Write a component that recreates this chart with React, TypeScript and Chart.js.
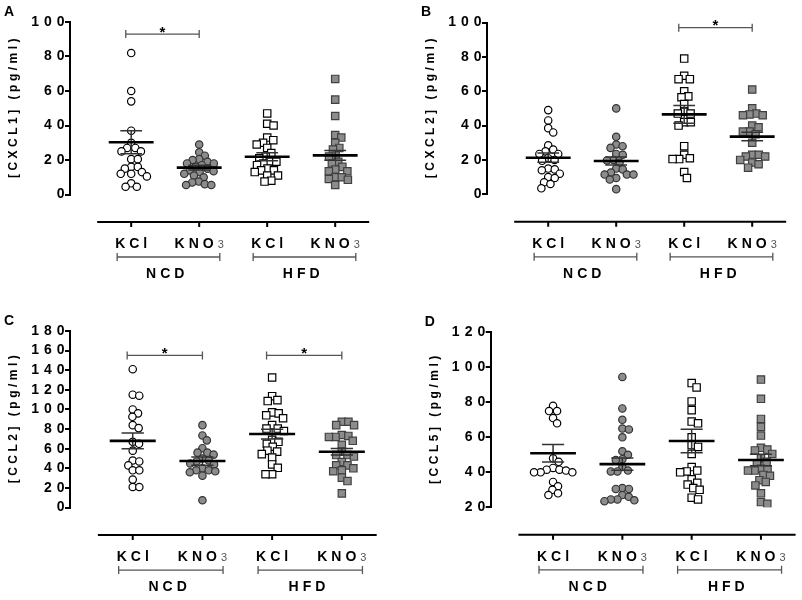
import React, { useEffect, useRef } from 'react';
import { Chart, registerables } from 'chart.js';

Chart.register(...registerables);

// ---------- data ----------
const categories = ['KCl', 'KNO3', 'KCl', 'KNO3'];
const groupLabels = ['NCD', 'HFD'];

// Panel A: [CXCL1]
const cxcl1NcdKcl = [82, 60, 54, 37, 30, 27, 27, 25, 25, 20.5, 20.5, 16, 16, 15, 13, 12, 12, 10.5, 6.5, 4.5, 4.5];
const cxcl1NcdKno3 = [29, 24.5, 22.5, 20.5, 20, 19, 18, 18, 17, 16, 15, 14, 13.5, 13, 12, 11, 10, 7.5, 7, 6, 5.5, 5.5];
const cxcl1HfdKcl = [47, 41, 40, 33, 31.5, 30, 29, 27, 24, 22, 21, 19, 19, 18, 17, 15, 14, 14, 13, 11, 11, 8, 7.5];
const cxcl1HfdKno3 = [67, 55, 45.5, 34.5, 33, 30, 27, 26, 22.5, 22, 19, 18, 16, 14.5, 13.5, 13.5, 10, 10, 9, 8.5, 5.5];
const cxcl1Mean = [30.3, 15.6, 21.9, 22.7];
const cxcl1Sem = [6.7, 1.4, 2.3, 2.8];
const cxcl1Ticks = [0, 20, 40, 60, 80, 100];
const cxcl1Sig = [{ from: 0, to: 1, y: 93 }];

// Panel B: [CXCL2]
const cxcl2NcdKcl = [49, 43, 38.5, 36, 28.5, 26, 25, 23.5, 23.5, 21, 20, 19.5, 15, 14.5, 14, 12, 10, 9.5, 7, 6, 3.5];
const cxcl2NcdKno3 = [50, 33.5, 29, 28, 27, 23.5, 23, 20, 19.7, 18.5, 15, 14.5, 12.7, 11.5, 11.5, 11.5, 9.5, 8.6, 3];
const cxcl2HfdKcl = [79, 69, 67, 67, 60, 57, 56.5, 52.5, 48, 47, 47, 42, 42, 40, 28, 23, 21, 20.5, 20.5, 13, 9.5];
const cxcl2HfdKno3 = [61, 50, 47, 46.5, 46, 46, 40, 39, 36.5, 36.5, 35, 30, 23, 23, 22, 22, 20, 18.5, 17.5, 15.5];
const cxcl2Mean = [21.3, 19.4, 46.5, 33.6];
const cxcl2Sem = [2.7, 2.3, 5.2, 2.5];
const cxcl2Ticks = [0, 20, 40, 60, 80, 100];
const cxcl2Sig = [{ from: 2, to: 3, y: 97 }];

// Panel C: [CCL2]
const ccl2NcdKcl = [141, 115, 114, 100, 96, 92.5, 84, 81, 67, 65, 58, 48, 47, 43, 38, 38, 28.5, 21, 21];
const ccl2NcdKno3 = [84, 73.5, 68.5, 60.5, 56, 56, 54, 50, 48, 47, 45, 44, 40, 38, 38, 37, 36, 32.5, 7.5];
const ccl2HfdKcl = [132.5, 113.5, 109.5, 108.5, 97, 96, 94, 91, 84, 80.5, 80.5, 78, 69, 67, 65, 62, 58, 57, 54.5, 51, 44, 40.5, 34, 34];
const ccl2HfdKno3 = [87.5, 87.5, 84, 84, 74, 73, 72, 72, 68, 64, 57, 53.5, 53.5, 52, 46.5, 43, 43, 40, 38, 37, 30.5, 27, 14.5];
const ccl2Mean = [68, 47.4, 74.9, 56.9];
const ccl2Sem = [8, 4.2, 5, 3.4];
const ccl2Ticks = [0, 20, 40, 60, 80, 100, 120, 140, 160, 180];
const ccl2Sig = [{ from: 0, to: 1, y: 155 }, { from: 2, to: 3, y: 155 }];

// Panel D: [CCL5]
const ccl5NcdKcl = [78, 75, 75, 71, 68, 48, 46, 42.5, 41.5, 41.5, 41, 40, 40, 40, 34.5, 32, 30, 28, 27];
const ccl5NcdKno3 = [94.5, 76.5, 70, 65, 64.5, 60, 52, 50, 47.5, 47, 43, 41, 40.5, 40.5, 31, 30.5, 30.5, 27, 26, 24.5, 24.5, 24, 23.5];
const ccl5HfdKcl = [91, 88.5, 80.5, 75.5, 69, 68, 60, 55.5, 54.5, 50.5, 43, 41, 40.5, 40, 36, 34, 33, 31, 30, 25.5, 24.5];
const ccl5HfdKno3 = [93, 82, 70.5, 66, 61, 54, 53, 52.5, 50.5, 48, 46, 45, 42, 41.5, 41, 41, 38.5, 38, 35.5, 34.5, 32.5, 28, 23, 22];
const ccl5Mean = [50.9, 44.7, 57.9, 47];
const ccl5Sem = [5, 3.5, 6.7, 3.3];
const ccl5Ticks = [20, 40, 60, 80, 100, 120];
const ccl5Sig: { from: number; to: number; y: number }[] = [];

// ---------- layout / style ----------
const FONT = '"Liberation Sans", Arial, Helvetica, sans-serif';
const X_MIN = -0.9;
const X_MAX = 3.5;
const TICK_LS = 5;

type Sig = { from: number; to: number; y: number };
type Panel = {
  letter: string;
  title: string;
  groups: number[][];
  means: number[];
  sems: number[];
  ticks: number[];
  sig: Sig[];
  x: number;
  y: number;
  w: number;
  axisX: number;
  top: number;
  bottom: number;
  unit: number;
};

const panels: Panel[] = [
  { letter: 'A', title: '[CXCL1] (pg/ml)', groups: [cxcl1NcdKcl, cxcl1NcdKno3, cxcl1HfdKcl, cxcl1HfdKno3], means: cxcl1Mean, sems: cxcl1Sem, ticks: cxcl1Ticks, sig: cxcl1Sig, x: 0, y: 0, w: 400, axisX: 70, top: 22, bottom: 194.5, unit: 68 },
  { letter: 'B', title: '[CXCL2] (pg/ml)', groups: [cxcl2NcdKcl, cxcl2NcdKno3, cxcl2HfdKcl, cxcl2HfdKno3], means: cxcl2Mean, sems: cxcl2Sem, ticks: cxcl2Ticks, sig: cxcl2Sig, x: 400, y: 0, w: 402, axisX: 87, top: 22.5, bottom: 194.3, unit: 68 },
  { letter: 'C', title: '[CCL2] (pg/ml)', groups: [ccl2NcdKcl, ccl2NcdKno3, ccl2HfdKcl, ccl2HfdKno3], means: ccl2Mean, sems: ccl2Sem, ticks: ccl2Ticks, sig: ccl2Sig, x: 0, y: 300, w: 400, axisX: 70, top: 30.9, bottom: 207.6, unit: 69.7 },
  { letter: 'D', title: '[CCL5] (pg/ml)', groups: [ccl5NcdKcl, ccl5NcdKno3, ccl5HfdKcl, ccl5HfdKno3], means: ccl5Mean, sems: ccl5Sem, ticks: ccl5Ticks, sig: ccl5Sig, x: 400, y: 300, w: 402, axisX: 90.7, top: 32.3, bottom: 207.3, unit: 69.3 },
];

const markerStyles = [
  { pointStyle: 'circle', radius: 3.7, bg: '#ffffff', border: '#000000' },
  { pointStyle: 'circle', radius: 3.7, bg: '#8c8c8c', border: '#333333' },
  { pointStyle: 'rect', radius: 5.2, bg: '#ffffff', border: '#000000' },
  { pointStyle: 'rect', radius: 5.2, bg: '#8c8c8c', border: '#404040' },
];

function swarm(values: number[], yScale: any, unitPx: number, d: number): number[] {
  const placed: { dx: number; py: number }[] = [];
  const out: number[] = [];
  values.forEach((v) => {
    const py = yScale.getPixelForValue(v);
    const cands: number[] = [0];
    placed.forEach((p) => {
      const dy = Math.abs(p.py - py);
      if (dy < d) {
        const h = Math.sqrt(d * d - dy * dy);
        cands.push(p.dx + h, p.dx - h);
      }
    });
    cands.sort((a, b) => Math.abs(a) - Math.abs(b));
    let best = 0;
    for (const c of cands) {
      if (placed.every((p) => (p.dx - c) ** 2 + (p.py - py) ** 2 >= d * d - 0.01)) {
        best = c;
        break;
      }
    }
    placed.push({ dx: best, py });
    out.push(best / unitPx);
  });
  return out;
}

function spaced(ctx: CanvasRenderingContext2D, text: string, cx: number, cy: number, ls: number) {
  ctx.letterSpacing = ls + 'px';
  const w = ctx.measureText(text).width - ls;
  ctx.textAlign = 'left';
  ctx.fillText(text, cx - w / 2, cy);
  return w;
}

function PanelChart({ p }: { p: Panel }) {
  const ref = useRef<HTMLCanvasElement>(null);

  useEffect(() => {
    const canvas = ref.current;
    if (!canvas) return;
    const padRight = p.w - (p.axisX + (X_MAX - X_MIN) * p.unit);

    const overlay = {
      id: 'overlay' + p.letter,
      beforeDraw(chart: any) {
        chart.ctx.letterSpacing = TICK_LS + 'px';
      },
      afterDatasetsDraw(chart: any) {
        const { ctx, scales } = chart;
        const xs = scales.x;
        const ys = scales.y;
        const u = xs.getPixelForValue(1) - xs.getPixelForValue(0);
        ctx.save();
        p.means.forEach((m, i) => {
          const cx = xs.getPixelForValue(i);
          const s = p.sems[i];
          const yHi = ys.getPixelForValue(m + s);
          const yLo = ys.getPixelForValue(m - s);
          ctx.strokeStyle = '#333';
          ctx.lineWidth = 1.5;
          ctx.beginPath();
          ctx.moveTo(cx, yHi);
          ctx.lineTo(cx, yLo);
          ctx.moveTo(cx - 0.16 * u, yHi);
          ctx.lineTo(cx + 0.16 * u, yHi);
          ctx.moveTo(cx - 0.16 * u, yLo);
          ctx.lineTo(cx + 0.16 * u, yLo);
          ctx.stroke();
          const ym = ys.getPixelForValue(m);
          ctx.strokeStyle = '#000';
          ctx.lineWidth = 2.6;
          ctx.beginPath();
          ctx.moveTo(cx - 0.33 * u, ym);
          ctx.lineTo(cx + 0.33 * u, ym);
          ctx.stroke();
        });
        ctx.restore();
      },
      afterDraw(chart: any) {
        const { ctx, chartArea: ca, scales } = chart;
        const xs = scales.x;
        const ys = scales.y;
        ctx.save();
        ctx.fillStyle = '#000';
        ctx.textBaseline = 'middle';

        // floating x axis
        const ay = ca.bottom + 27.5;
        ctx.strokeStyle = '#000';
        ctx.lineWidth = 2;
        ctx.beginPath();
        ctx.moveTo(xs.getPixelForValue(-0.5), ay);
        ctx.lineTo(xs.getPixelForValue(3.5), ay);
        categories.forEach((_, i) => {
          const x = xs.getPixelForValue(i);
          ctx.moveTo(x, ay);
          ctx.lineTo(x, ay + 5);
        });
        ctx.stroke();

        // category labels
        const labelEdges: { l: number; r: number }[] = [];
        categories.forEach((c, i) => {
          const x = xs.getPixelForValue(i);
          const main = c.replace(/\d+$/, '');
          const sub = c.slice(main.length);
          ctx.font = `bold 14px ${FONT}`;
          ctx.letterSpacing = '4px';
          const wMain = ctx.measureText(main).width;
          let wSub = 0;
          if (sub) {
            ctx.font = `11px ${FONT}`;
            ctx.letterSpacing = '0px';
            wSub = ctx.measureText(sub).width;
          }
          const total = sub ? wMain + wSub : wMain - 4;
          const left = x - total / 2;
          ctx.font = `bold 14px ${FONT}`;
          ctx.letterSpacing = '4px';
          ctx.textAlign = 'left';
          ctx.fillStyle = '#000';
          ctx.fillText(main, left, ay + 22);
          if (sub) {
            ctx.font = `11px ${FONT}`;
            ctx.letterSpacing = '0px';
            ctx.fillStyle = '#555';
            ctx.fillText(sub, left + wMain, ay + 23);
            ctx.fillStyle = '#000';
          }
          labelEdges.push({ l: left, r: left + total });
        });

        // group brackets
        groupLabels.forEach((g, k) => {
          const a = 2 * k;
          const b = 2 * k + 1;
          const l = labelEdges[a].l + 2;
          const r = labelEdges[b].r - 4;
          const by = ay + 35;
          ctx.strokeStyle = '#555';
          ctx.lineWidth = 1.3;
          ctx.beginPath();
          ctx.moveTo(l, by);
          ctx.lineTo(r, by);
          ctx.moveTo(l, by - 4);
          ctx.lineTo(l, by + 4);
          ctx.moveTo(r, by - 4);
          ctx.lineTo(r, by + 4);
          ctx.stroke();
          ctx.font = `bold 14px ${FONT}`;
          ctx.fillStyle = '#000';
          const cx = (xs.getPixelForValue(a) + xs.getPixelForValue(b)) / 2;
          spaced(ctx, g, cx, ay + 52, 4);
        });

        // significance brackets
        p.sig.forEach((s) => {
          const l = xs.getPixelForValue(s.from - 0.08);
          const r = xs.getPixelForValue(s.to + 0.0);
          const yy = ys.getPixelForValue(s.y);
          ctx.strokeStyle = '#555';
          ctx.lineWidth = 1.3;
          ctx.beginPath();
          ctx.moveTo(l, yy);
          ctx.lineTo(r, yy);
          ctx.moveTo(l, yy - 4);
          ctx.lineTo(l, yy + 4);
          ctx.moveTo(r, yy - 4);
          ctx.lineTo(r, yy + 4);
          ctx.stroke();
          ctx.font = `bold 15px ${FONT}`;
          ctx.letterSpacing = '0px';
          ctx.textAlign = 'center';
          ctx.textBaseline = 'alphabetic';
          ctx.fillText('*', (l + r) / 2, yy + 2.5);
          ctx.textBaseline = 'middle';
        });

        // y title
        ctx.save();
        ctx.translate(ca.left - 56, (ca.top + ca.bottom) / 2);
        ctx.rotate(-Math.PI / 2);
        ctx.font = `bold 12px ${FONT}`;
        spaced(ctx, p.title, 0, 0, 3.5);
        ctx.restore();

        // panel letter
        ctx.font = `bold 14px ${FONT}`;
        ctx.letterSpacing = '0px';
        ctx.textAlign = 'left';
        ctx.fillText(p.letter, ca.left - 66, ca.top - 10);
        ctx.restore();
      },
    };

    const datasets = p.groups.map((vals, gi) => {
      const st = markerStyles[gi];
      return {
        label: categories[gi],
        data: vals.map((v) => ({ x: gi, y: v })),
        pointStyle: st.pointStyle,
        pointRadius: st.radius,
        pointBackgroundColor: st.bg,
        pointBorderColor: st.border,
        pointBorderWidth: 1.2,
        showLine: false,
      };
    });

    const chart = new Chart(canvas, {
      type: 'scatter',
      data: { datasets: datasets as any },
      options: {
        animation: false,
        responsive: false,
        maintainAspectRatio: false,
        events: [],
        layout: { padding: { left: 0, top: p.top, right: padRight, bottom: 300 - p.bottom } },
        plugins: { legend: { display: false }, tooltip: { enabled: false } },
        scales: {
          x: { type: 'linear', min: X_MIN, max: X_MAX, display: false },
          y: {
            type: 'linear',
            min: p.ticks[0],
            max: p.ticks[p.ticks.length - 1],
            afterFit: (s: any) => {
              s.width = p.axisX;
            },
            afterBuildTicks: (s: any) => {
              s.ticks = p.ticks.map((v) => ({ value: v }));
            },
            grid: { display: true, drawOnChartArea: false, drawTicks: true, tickLength: 5, lineWidth: 2, color: '#000' },
            border: { display: true, width: 2, color: '#000' },
            ticks: {
              color: '#000',
              autoSkip: false,
              font: { family: FONT, size: 14, weight: 'bold' },
              padding: -TICK_LS + 0.5,
            },
          },
        },
      } as any,
      plugins: [overlay],
    });

    const xs: any = chart.scales.x;
    const ys: any = chart.scales.y;
    const unitPx = xs.getPixelForValue(1) - xs.getPixelForValue(0);
    chart.data.datasets.forEach((ds: any, gi: number) => {
      const vals = p.groups[gi];
      const offs = swarm(vals, ys, unitPx, 6.6);
      ds.data = vals.map((v, k) => ({ x: gi + offs[k], y: v }));
    });
    chart.update();

    return () => chart.destroy();
  }, [p]);

  return (
    <canvas
      ref={ref}
      width={p.w}
      height={300}
      style={{ position: 'absolute', left: p.x, top: p.y, width: p.w, height: 300 }}
    />
  );
}

export default function App() {
  return (
    <div style={{ position: 'absolute', left: 0, top: 0, width: 802, height: 600, background: '#fff', overflow: 'hidden' }}>
      {panels.map((p) => (
        <PanelChart key={p.letter} p={p} />
      ))}
    </div>
  );
}
